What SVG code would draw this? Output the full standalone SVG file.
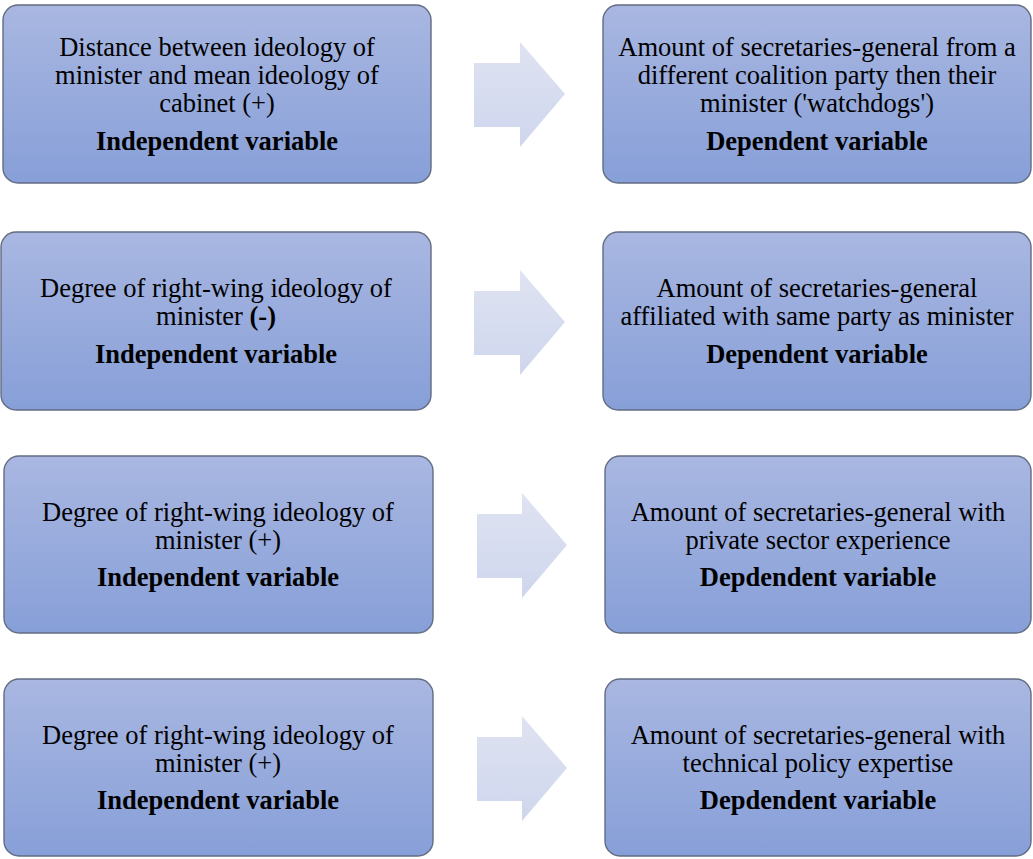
<svg xmlns="http://www.w3.org/2000/svg" width="1033" height="859" viewBox="0 0 1033 859">
<defs>
<linearGradient id="boxg" x1="0" y1="0" x2="0" y2="1">
<stop offset="0" stop-color="#a9b7e1"/>
<stop offset="1" stop-color="#879fd8"/>
</linearGradient>
<linearGradient id="arrg" x1="0" y1="0" x2="0" y2="1">
<stop offset="0" stop-color="#dfe3f2"/>
<stop offset="1" stop-color="#cfd6ed"/>
</linearGradient>
<style>
.box{fill:url(#boxg);stroke:#626c82;stroke-width:1.4}
.arr{fill:url(#arrg)}
.t text{font-family:'Liberation Serif','Times New Roman',serif;font-size:26.5px;fill:#000;text-anchor:middle}
.b{font-weight:bold}
</style>
</defs>
<rect width="1033" height="859" fill="#fff"/>
<g id="connectors">
<path class="arr" d="M474,63 H520 V42 L565,94 L520,147 V127 H474 Z"/>
<path class="arr" d="M474,291 H520 V270 L565,322 L520,375 V355 H474 Z"/>
<path class="arr" d="M477,514 H522 V493 L567,545 L522,598 V578 H477 Z"/>
<path class="arr" d="M477,737 H522 V716 L567,768 L522,821 V801 H477 Z"/>
</g>
<g class="t">
<g id="n1">
<rect class="box" x="3" y="5" width="428" height="178" rx="15"/>
<text x="217" y="56">Distance between ideology of</text>
<text x="217" y="84">minister and mean ideology of</text>
<text x="217" y="112">cabinet (+)</text>
<text class="b" x="217" y="150">Independent variable</text>
</g>
<g id="n2">
<rect class="box" x="603" y="5" width="428" height="178" rx="15"/>
<text x="817" y="56">Amount of secretaries-general from a</text>
<text x="817" y="84">different coalition party then their</text>
<text x="817" y="112">minister ('watchdogs')</text>
<text class="b" x="817" y="150">Dependent variable</text>
</g>
<g id="n3">
<rect class="box" x="1" y="232" width="430" height="178" rx="15"/>
<text x="216" y="297">Degree of right-wing ideology of</text>
<text x="216" y="325">minister <tspan class="b">(-)</tspan></text>
<text class="b" x="216" y="363">Independent variable</text>
</g>
<g id="n4">
<rect class="box" x="603" y="232" width="428" height="178" rx="15"/>
<text x="817" y="297">Amount of secretaries-general</text>
<text x="817" y="325">affiliated with same party as minister</text>
<text class="b" x="817" y="363">Dependent variable</text>
</g>
<g id="n5">
<rect class="box" x="4" y="456" width="429" height="177" rx="15"/>
<text x="218" y="521">Degree of right-wing ideology of</text>
<text x="218" y="549">minister (+)</text>
<text class="b" x="218" y="586">Independent variable</text>
</g>
<g id="n6">
<rect class="box" x="605" y="456" width="426" height="177" rx="15"/>
<text x="818" y="521">Amount of secretaries-general with</text>
<text x="818" y="549">private sector experience</text>
<text class="b" x="818" y="586">Depdendent variable</text>
</g>
<g id="n7">
<rect class="box" x="4" y="679" width="429" height="177" rx="15"/>
<text x="218" y="744">Degree of right-wing ideology of</text>
<text x="218" y="772">minister (+)</text>
<text class="b" x="218" y="809">Independent variable</text>
</g>
<g id="n8">
<rect class="box" x="605" y="679" width="426" height="177" rx="15"/>
<text x="818" y="744">Amount of secretaries-general with</text>
<text x="818" y="772">technical policy expertise</text>
<text class="b" x="818" y="809">Depdendent variable</text>
</g>
</g>
</svg>
